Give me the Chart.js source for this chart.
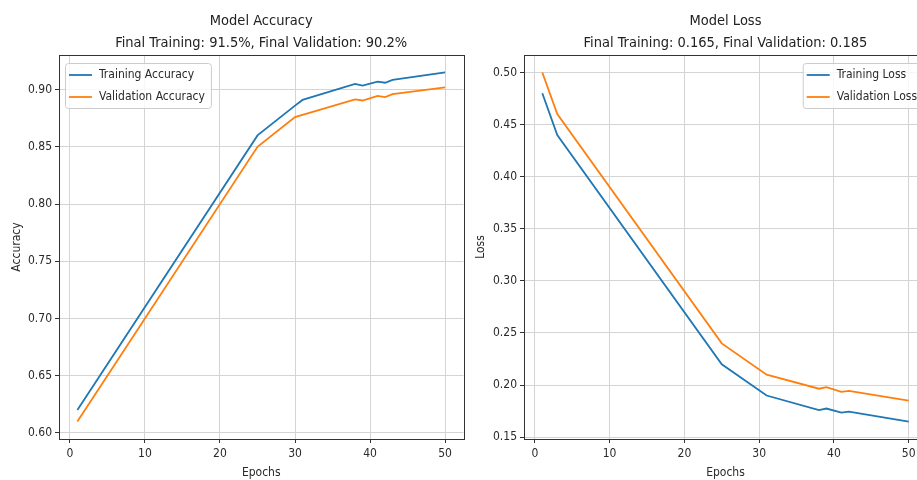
<!DOCTYPE html>
<html>
<head>
<meta charset="utf-8">
<script src="https://cdn.jsdelivr.net/npm/chart.js@4.4.0/dist/chart.umd.min.js"></script>
<style>
  html, body { margin: 0; padding: 0; background: #fff; overflow: hidden; }
  #wrap { position: relative; width: 917px; height: 480px; overflow: hidden; }
  #accChart { position: absolute; left: 0; top: 0; }
  #lossChart { position: absolute; left: 460px; top: 0; }
</style>
</head>
<body>
<div id="wrap">
  <canvas id="accChart" width="470" height="480"></canvas>
  <canvas id="lossChart" width="480" height="480"></canvas>
</div>
<script>
// values
var accEpochs = [1, 25, 30, 31, 38, 39, 41, 42, 43, 50];
var trainAcc  = [0.62, 0.86, 0.886, 0.891, 0.905, 0.9035, 0.907, 0.906, 0.9085, 0.915];
var valAcc    = [0.61, 0.85, 0.876, 0.878, 0.8915, 0.8905, 0.8945, 0.8935, 0.896, 0.902];

var lossEpochs = [1, 3, 25, 31, 38, 39, 41, 42, 50];
var trainLoss  = [0.48, 0.44, 0.22, 0.19, 0.176, 0.1775, 0.1735, 0.1745, 0.165];
var valLoss    = [0.50, 0.46, 0.24, 0.21, 0.1965, 0.198, 0.1935, 0.1945, 0.185];

var epochTicks = [0, 10, 20, 30, 40, 50];
var accTicks   = [0.60, 0.65, 0.70, 0.75, 0.80, 0.85, 0.90];
var lossTicks  = [0.15, 0.20, 0.25, 0.30, 0.35, 0.40, 0.45, 0.50];

var FONT = '"DejaVu Sans Condensed", "DejaVu Sans", sans-serif';
var BLUE = '#1f77b4', ORANGE = '#ff7f0e';
var GRID = '#d4d4d4', AXIS = '#333333', TEXT = '#2a2a2a';

Chart.defaults.font.family = FONT;
Chart.defaults.color = TEXT;

function pts(xs, ys) {
  return xs.map(function (x, i) { return {x: x, y: ys[i]}; });
}

function line(label, xs, ys, color) {
  return {
    label: label,
    data: pts(xs, ys),
    borderColor: color,
    backgroundColor: color,
    borderWidth: 1.8,
    pointRadius: 0,
    tension: 0,
    fill: false
  };
}

function axes(yTicks, yMin, yMax, yTitle, yWidth, yTitlePad) {
  return {
    x: {
      type: 'linear', min: -1.45, max: 52.45,
      afterFit: function (s) { s.height = 41; },
      afterBuildTicks: function (s) { s.ticks = epochTicks.map(function (v) { return {value: v}; }); },
      grid: {color: GRID, tickColor: AXIS, tickLength: 4},
      border: {display: false},
      ticks: {color: TEXT, padding: 4, font: {size: 12}, maxRotation: 0,
              callback: function (v) { return v; }},
      title: {display: true, text: 'Epochs', color: TEXT, font: {size: 12},
              padding: {top: 0, bottom: 0}}
    },
    y: {
      type: 'linear', min: yMin, max: yMax,
      afterFit: function (s) { s.width = yWidth; },
      afterBuildTicks: function (s) { s.ticks = yTicks.map(function (v) { return {value: v}; }); },
      grid: {color: GRID, tickColor: AXIS, tickLength: 4},
      border: {display: false},
      ticks: {color: TEXT, padding: 3, font: {size: 12},
              callback: function (v) { return Number(v).toFixed(2); }},
      title: {display: true, text: yTitle, color: TEXT, font: {size: 12},
              padding: {top: yTitlePad, bottom: 0}}
    }
  };
}

// axes frame + matplotlib style legend box inside the plot
var frameLegend = {
  id: 'frameLegend',
  afterDatasetsDraw: function (chart, args, opts) {
    var ctx = chart.ctx, a = chart.chartArea;
    ctx.save();
    ctx.strokeStyle = AXIS;
    ctx.lineWidth = 1;
    ctx.strokeRect(Math.round(a.left) + 0.5, Math.round(a.top) + 0.5,
                   Math.round(a.right - a.left), Math.round(a.bottom - a.top));

    var sets = chart.data.datasets;
    ctx.font = '12px ' + FONT;
    var tw = 0;
    sets.forEach(function (d) { tw = Math.max(tw, ctx.measureText(d.label).width); });
    var w = 4 + 23 + 7 + tw + 6, h = 45;
    var x = opts.align === 'right' ? a.right - 4 - w : a.left + 6;
    var y = a.top + 8;
    ctx.beginPath();
    ctx.roundRect(x + 0.5, y + 0.5, w, h, 3);
    ctx.fillStyle = 'rgba(255,255,255,0.8)';
    ctx.fill();
    ctx.strokeStyle = '#cccccc';
    ctx.stroke();
    sets.forEach(function (d, i) {
      var cy = y + 12 + i * 22;
      ctx.beginPath();
      ctx.moveTo(x + 4, cy);
      ctx.lineTo(x + 27, cy);
      ctx.strokeStyle = d.borderColor;
      ctx.lineWidth = 1.8;
      ctx.stroke();
      ctx.fillStyle = TEXT;
      ctx.textBaseline = 'middle';
      ctx.textAlign = 'left';
      ctx.fillText(d.label, x + 34, cy);
    });
    ctx.restore();
  }
};

function titleOpts(lines) {
  return {
    display: true, text: lines, fullSize: false, color: '#222',
    font: {size: 14.5, weight: 'normal', lineHeight: '22px'},
    padding: {top: 10, bottom: 1}
  };
}

new Chart(document.getElementById('accChart'), {
  type: 'line',
  data: {
    datasets: [
      line('Training Accuracy', accEpochs, trainAcc, BLUE),
      line('Validation Accuracy', accEpochs, valAcc, ORANGE)
    ]
  },
  options: {
    responsive: false, animation: false, devicePixelRatio: 1,
    layout: {padding: {right: 6.5}},
    scales: axes(accTicks, 0.59475, 0.93025, 'Accuracy', 59, 10),
    plugins: {
      legend: {display: false},
      tooltip: {enabled: false},
      title: titleOpts(['Model Accuracy', 'Final Training: 91.5%, Final Validation: 90.2%']),
      frameLegend: {align: 'left'}
    }
  },
  plugins: [frameLegend]
});

new Chart(document.getElementById('lossChart'), {
  type: 'line',
  data: {
    datasets: [
      line('Training Loss', lossEpochs, trainLoss, BLUE),
      line('Validation Loss', lossEpochs, valLoss, ORANGE)
    ]
  },
  options: {
    responsive: false, animation: false, devicePixelRatio: 1,
    layout: {padding: {right: 13}},
    scales: axes(lossTicks, 0.14825, 0.51675, 'Loss', 64, 14),
    plugins: {
      legend: {display: false},
      tooltip: {enabled: false},
      title: titleOpts(['Model Loss', 'Final Training: 0.165, Final Validation: 0.185']),
      frameLegend: {align: 'right'}
    }
  },
  plugins: [frameLegend]
});
</script>
</body>
</html>
